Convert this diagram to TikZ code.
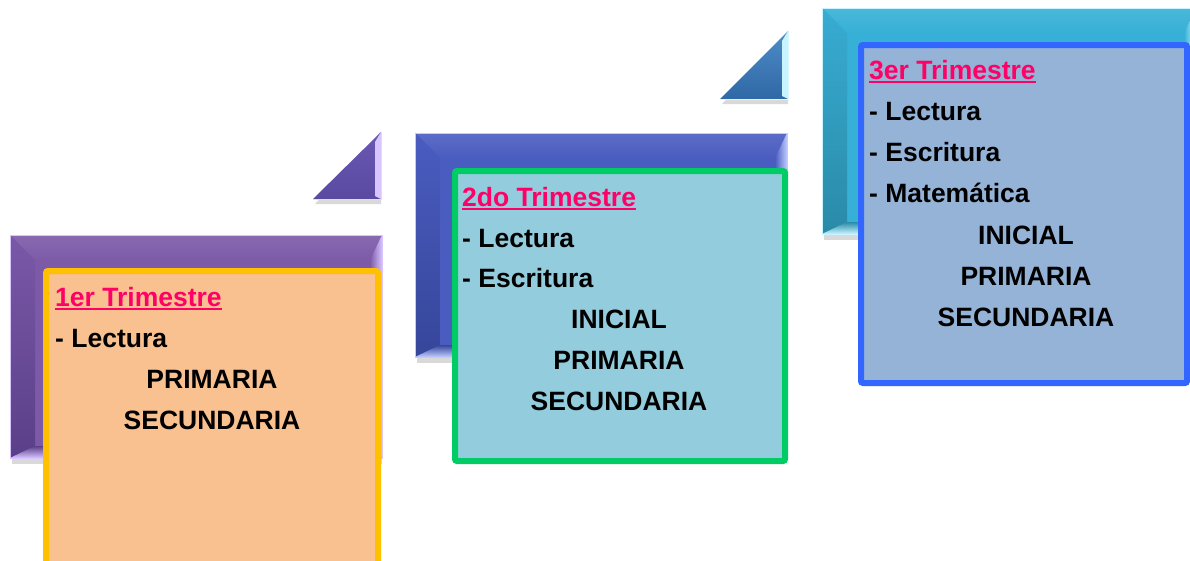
\documentclass[tikz,border=0pt]{standalone}
\usepackage{fontspec}
\setmainfont{Liberation Sans}
\definecolor{purA}{HTML}{7C5AA8}
\definecolor{purB}{HTML}{7A58A8}
\definecolor{purC}{HTML}{5A4088}
\definecolor{purL}{HTML}{D8C4FF}
\definecolor{purT}{HTML}{5A4AA0}
\definecolor{purU}{HTML}{6A58B4}
\definecolor{bluA}{HTML}{4A5CC0}
\definecolor{bluB}{HTML}{4A5CC0}
\definecolor{bluC}{HTML}{36469A}
\definecolor{bluL}{HTML}{C0CCFF}
\definecolor{teaA}{HTML}{36B0D6}
\definecolor{teaB}{HTML}{38ACD2}
\definecolor{teaC}{HTML}{2A8AA8}
\definecolor{teaL}{HTML}{C8F4FF}
\definecolor{stlA}{HTML}{2F68A6}
\definecolor{stlB}{HTML}{4F8CC6}
\definecolor{orB}{HTML}{FFC000}
\definecolor{orF}{HTML}{F9C090}
\definecolor{grB}{HTML}{00CC66}
\definecolor{grF}{HTML}{93CCDD}
\definecolor{blB}{HTML}{3366FF}
\definecolor{blF}{HTML}{95B3D7}
\definecolor{ttl}{HTML}{FF0066}
\tikzset{
  txt/.style={inner sep=0pt, font=\bfseries\fontsize{26.5}{30}\selectfont, text=black},
  ttltxt/.style={txt, text=ttl},
  uline/.style={draw=ttl, line width=2pt},
  cardbox/.style={line width=6pt, rounded corners=2pt},
}
\newcommand\bevfr[8]{%
  \fill[black,opacity=.15] (#1+2,#2+5) rectangle (#3,#4+6);
  \fill[#5] (#1,#2) rectangle (#3,#4);
  \shade[top color=#5!90!white,bottom color=#5] (#1,#2) -- (#3,#2) -- (#3-12,#2+25) -- (#1+25,#2+25) -- cycle;
  \shade[top color=#6,bottom color=#7] (#1,#2) -- (#1+25,#2+25) -- (#1+25,#4-12) -- (#1,#4) -- cycle;
  \shade[left color=#5,right color=#8] (#3,#2) -- (#3,#4) -- (#3-12,#4-12) -- (#3-12,#2+25) -- cycle;
  \shade[top color=#7,bottom color=#8] (#1,#4) -- (#3,#4) -- (#3-12,#4-12) -- (#1+25,#4-12) -- cycle;
  \draw[#8,line width=1pt] (#1,#2) rectangle (#3,#4);
}
\newcommand\bevtri[7]{%
  \fill[black,opacity=.15] (#1+2,#2+5) -- (#3,#2+5) -- (#3,#4+5) -- cycle;
  \shade[top color=#6,bottom color=#5] (#1,#2) -- (#3,#2) -- (#3,#4) -- cycle;
  \fill[#7] (#3-6,#4+10) -- (#3,#4) -- (#3,#2) -- (#3-6,#2-3) -- cycle;
  \draw[#7!70!white,line width=1pt] (#1,#2) -- (#3,#2) -- (#3,#4);
}
\begin{document}
\begin{tikzpicture}[x=1pt,y=-1pt]
\useasboundingbox (0,0) rectangle (1190,560);
\clip (0,0) rectangle (1190,560);
% frames and triangles
\bevfr{10}{235}{382}{458}{purA}{purB}{purC}{purL}
\bevtri{313}{199}{381}{132}{purT}{purU}{purL}
\bevfr{415}{133}{787}{357}{bluA}{bluB}{bluC}{bluL}
\bevtri{720}{99}{788}{31}{stlA}{stlB}{teaL}
\bevfr{822}{8}{1196}{234}{teaA}{teaB}{teaC}{teaL}
% cards
\draw[cardbox, draw=orB, fill=orF] (46,271) rectangle (378,580);
\draw[cardbox, draw=grB, fill=grF] (455,171) rectangle (785,461);
\draw[cardbox, draw=blB, fill=blF] (861,45) rectangle (1187,383);
% card 1
\node[ttltxt, anchor=base west] (t1) at (55,306) {1er Trimestre};
\draw[uline] ([yshift=-3pt]t1.base west) -- ([yshift=-3pt]t1.base east);
\node[txt, anchor=base west] (a1) at (55,347) {- Lectura};
\node[txt, anchor=base] (a2) at (212,388) {PRIMARIA};
\node[txt, anchor=base] (a3) at (212,429) {SECUNDARIA};
% card 2
\node[ttltxt, anchor=base west] (t2) at (462,206) {2do Trimestre};
\draw[uline] ([yshift=-3pt]t2.base west) -- ([yshift=-3pt]t2.base east);
\node[txt, anchor=base west] (b1) at (462,247) {- Lectura};
\node[txt, anchor=base west] (b2) at (462,287) {- Escritura};
\node[txt, anchor=base] (b3) at (619,328) {INICIAL};
\node[txt, anchor=base] (b4) at (619,369) {PRIMARIA};
\node[txt, anchor=base] (b5) at (619,410) {SECUNDARIA};
% card 3
\node[ttltxt, anchor=base west] (t3) at (869,79) {3er Trimestre};
\draw[uline] ([yshift=-3pt]t3.base west) -- ([yshift=-3pt]t3.base east);
\node[txt, anchor=base west] (c1) at (869,120) {- Lectura};
\node[txt, anchor=base west] (c2) at (869,161) {- Escritura};
\node[txt, anchor=base west] (c3) at (869,202) {- Matemática};
\node[txt, anchor=base] (c4) at (1026,244) {INICIAL};
\node[txt, anchor=base] (c5) at (1026,285) {PRIMARIA};
\node[txt, anchor=base] (c6) at (1026,326) {SECUNDARIA};
\end{tikzpicture}
\end{document}
